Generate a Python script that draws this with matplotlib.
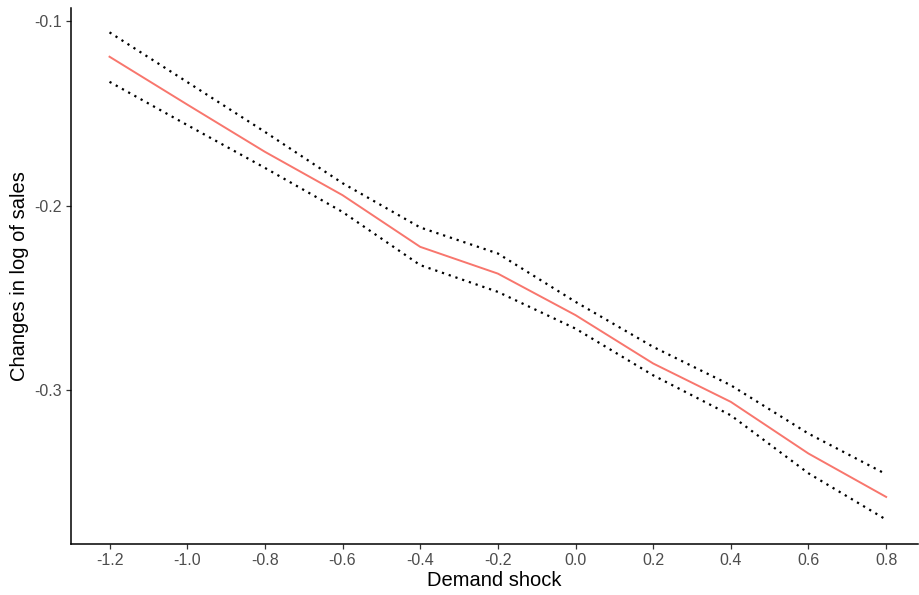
import matplotlib.pyplot as plt

plt.rcParams['font.family'] = ['Liberation Sans', 'DejaVu Sans']

# demand shock grid
shock = [-1.2, -1.0, -0.8, -0.6, -0.4, -0.2, 0.0, 0.2, 0.4, 0.6, 0.8]

# point estimate and confidence bounds
est = [-0.1193, -0.1452, -0.1708, -0.1943, -0.2223, -0.2368,
       -0.2593, -0.2855, -0.3063, -0.3343, -0.3578]
upper = [-0.1061, -0.1330, -0.1600, -0.1878, -0.2118, -0.2259,
         -0.2521, -0.2765, -0.2973, -0.3235, -0.3455]
lower = [-0.1329, -0.1563, -0.1795, -0.2034, -0.2322, -0.2467,
         -0.2666, -0.2919, -0.3136, -0.3450, -0.3701]

xticks = [-1.2, -1.0, -0.8, -0.6, -0.4, -0.2, 0.0, 0.2, 0.4, 0.6, 0.8]
yticks = [-0.1, -0.2, -0.3]

fig = plt.figure(figsize=(9.19, 5.95), dpi=100)
ax = fig.add_axes([70.7/919, 51/595, (918-70.7)/919, (544-8)/595])

ax.plot(shock, upper, color='black', lw=1.6, linestyle=(0, (1, 2.2)))
ax.plot(shock, lower, color='black', lw=1.6, linestyle=(0, (1, 2.2)))
ax.plot(shock, est, color='#F8766D', lw=1.4)

ax.set_xlim(-1.3, 0.882)
ax.set_ylim(-0.3833, -0.0929)

ax.set_xticks(xticks)
ax.set_xticklabels(['%.1f' % v for v in xticks])
ax.set_yticks(yticks)
ax.set_yticklabels(['%.1f' % v for v in yticks])

for s in ['top', 'right']:
    ax.spines[s].set_visible(False)
for s in ['left', 'bottom']:
    ax.spines[s].set_linewidth(1.1)
    ax.spines[s].set_color('black')

ax.tick_params(axis='both', length=3.4, width=0.9, color='#333333',
               labelcolor='#4D4D4D', labelsize=11.5, pad=3)

ax.set_xlabel('Demand shock', fontsize=14.5, labelpad=2)
ax.set_ylabel('Changes in log of sales', fontsize=14.5, labelpad=4)

fig.savefig('out.png', dpi=100)
